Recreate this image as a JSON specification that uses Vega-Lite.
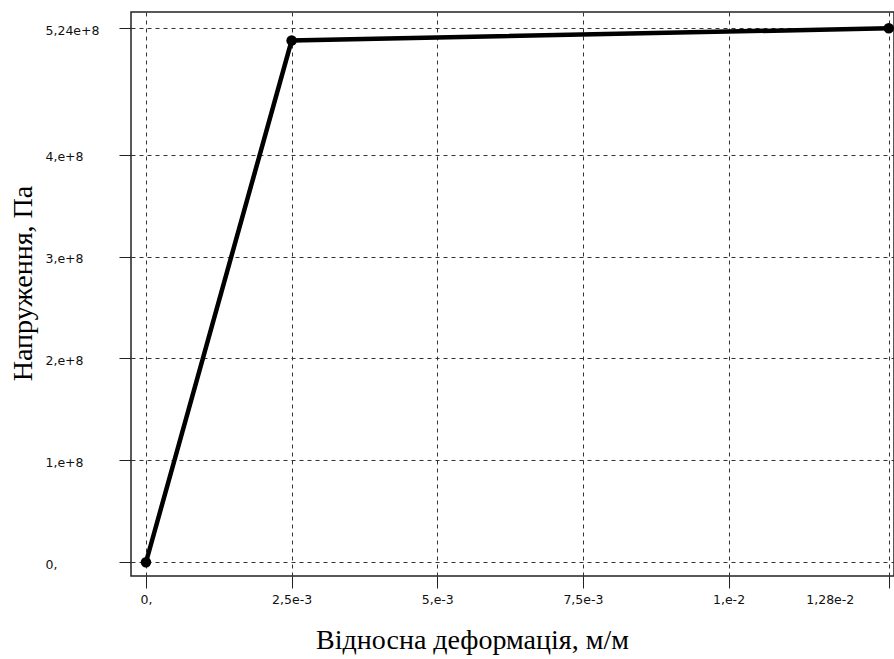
{
  "$schema": "https://vega.github.io/schema/vega-lite/v6.json",
  "autosize": "none",
  "padding": {"left": 131, "top": 12, "right": 0, "bottom": 83},
  "width": 763,
  "height": 564,
  "background": "white",
  "config": {
    "view": {"stroke": "#222222", "strokeWidth": 1.5},
    "axis": {
      "labelFont": "DejaVu Sans",
      "labelFontSize": 12.5,
      "labelColor": "#111111",
      "tickColor": "#222222",
      "tickSize": 12,
      "tickWidth": 1,
      "domain": false,
      "grid": true,
      "gridColor": "#333333",
      "gridDash": [4, 4],
      "gridWidth": 1,
      "gridOpacity": 1,
      "titleFont": "Liberation Serif",
      "titleFontSize": 28,
      "titleFontWeight": "normal",
      "titleColor": "#000000"
    }
  },
  "data": {
    "values": [
      {"strain": 0, "stress": 0},
      {"strain": 0.0025, "stress": 512000000},
      {"strain": 0.01275, "stress": 524000000}
    ]
  },
  "mark": {"type": "line", "color": "#000000", "strokeWidth": 4.5, "point": {"filled": true, "color": "#000000", "size": 110}},
  "encoding": {
    "x": {
      "field": "strain",
      "type": "quantitative",
      "scale": {"domain": [-0.000257, 0.01284], "nice": false, "zero": false},
      "axis": {
        "values": [0, 0.0025, 0.005, 0.0075, 0.01, 0.01275],
        "labelExpr": "datum.value < 0.001 ? '0,' : datum.value < 0.003 ? '2,5e-3' : datum.value < 0.006 ? '5,e-3' : datum.value < 0.008 ? '7,5e-3' : datum.value < 0.011 ? '1,e-2' : '1,28e-2'",
        "labelPadding": 5,
        "labelFlush": false,
        "labelOffset": {"condition": {"test": "datum.value > 0.012", "value": -59}, "value": 0},
        "title": "Відносна деформація, м/м",
        "titleX": 341,
        "titleY": 72,
        "titleAlign": "center",
        "titleBaseline": "alphabetic"
      }
    },
    "y": {
      "field": "stress",
      "type": "quantitative",
      "scale": {"domain": [-13500000, 540000000], "nice": false, "zero": false},
      "axis": {
        "values": [0, 100000000, 200000000, 300000000, 400000000, 524000000],
        "labelExpr": "datum.value < 1 ? '0,' : datum.value > 500000000 ? '5,24e+8' : format(datum.value / 100000000, 'd') + ',e+8'",
        "labelAlign": "left",
        "labelPadding": 74,
        "labelOffset": 2,
        "labelFlush": false,
        "title": "Напруження, Па",
        "titleAngle": 270,
        "titleX": -100,
        "titleY": 271,
        "titleAlign": "center",
        "titleBaseline": "alphabetic"
      }
    }
  }
}
